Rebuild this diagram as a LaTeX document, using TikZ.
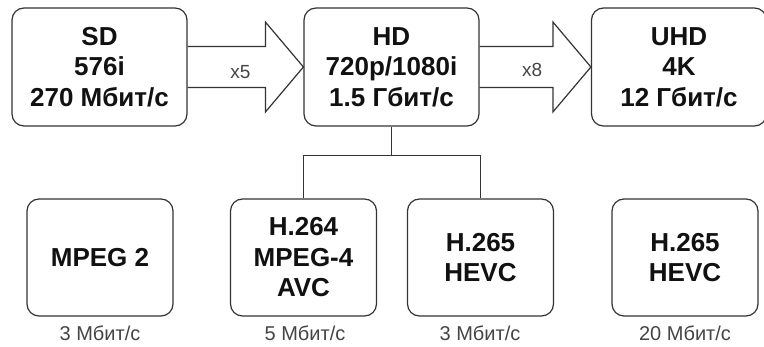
\documentclass[tikz,border=0pt]{standalone}
\usepackage{fontspec}
\setmainfont{Liberation Sans}
\usetikzlibrary{calc}
\definecolor{linec}{HTML}{333333}
\definecolor{textc}{HTML}{111111}
\definecolor{labc}{HTML}{444444}
\tikzset{
  box/.style={draw=linec, line width=1.2pt, rounded corners=12pt, fill=white,
    align=center, inner sep=0pt, text=textc,
    font=\bfseries\fontsize{26}{30.5}\selectfont},
  topbox/.style={box, minimum width=175pt, minimum height=118pt},
  botbox/.style={box, minimum width=146pt, minimum height=117pt},
  blockarrow/.style={draw=linec, line width=1.2pt, line join=miter},
  mult/.style={text=labc, font=\fontsize{19}{22}\selectfont, inner sep=0pt},
  rate/.style={text=labc, font=\fontsize{20}{22}\selectfont, inner sep=0pt},
  conn/.style={draw=linec, line width=1.2pt}
}
\begin{document}
\begin{tikzpicture}[x=1pt, y=-1pt]
\useasboundingbox (0,0) rectangle (764,347);
\node[topbox] (sd) at (99.5,67) {SD\\576i\\270 Мбит/с};
\node[topbox] (hd) at (391.5,67) {HD\\720p/1080i\\1.5 Гбит/с};
\node[topbox] (uhd) at (679,67) {UHD\\4K\\12 Гбит/с};
\node[botbox] (mpeg2) at (100,257.5) {MPEG 2};
\node[botbox] (h264) at (303.5,257.5) {H.264\\MPEG-4\\AVC};
\node[botbox] (h265) at (480.5,257.5) {H.265\\HEVC};
\node[botbox] (h265b) at (685,257.5) {H.265\\HEVC};
% block arrows
\draw[blockarrow] ($(sd.east)+(0,20.5)$) -- ($(hd.west)+(-38,20.5)$) -- ($(hd.west)+(-38,45)$)
  -- (hd.west) -- ($(hd.west)+(-38,-45)$) -- ($(hd.west)+(-38,-20.5)$) -- ($(sd.east)+(0,-20.5)$);
\draw[blockarrow] ($(hd.east)+(0,20.5)$) -- ($(uhd.west)+(-38,20.5)$) -- ($(uhd.west)+(-38,45)$)
  -- (uhd.west) -- ($(uhd.west)+(-38,-45)$) -- ($(uhd.west)+(-38,-20.5)$) -- ($(hd.east)+(0,-20.5)$);
\node[mult] (m5) at ($(sd.east)!0.5!(hd.west)+(-5,5)$) {x5};
\node[mult] (m8) at ($(hd.east)!0.5!(uhd.west)+(-3,3)$) {x8};
% tree connector
\coordinate (split) at ($(hd.south)+(0,29)$);
\draw[conn] (hd.south) -- (split) -| (h264.north);
\draw[conn] (split) -| (h265.north);
% rates
\node[rate] (r1) at (100,333) {3 Мбит/с};
\node[rate] (r2) at (305,333) {5 Мбит/с};
\node[rate] (r3) at (480,333) {3 Мбит/с};
\node[rate] (r4) at (685,333) {20 Мбит/с};
\end{tikzpicture}
\end{document}
